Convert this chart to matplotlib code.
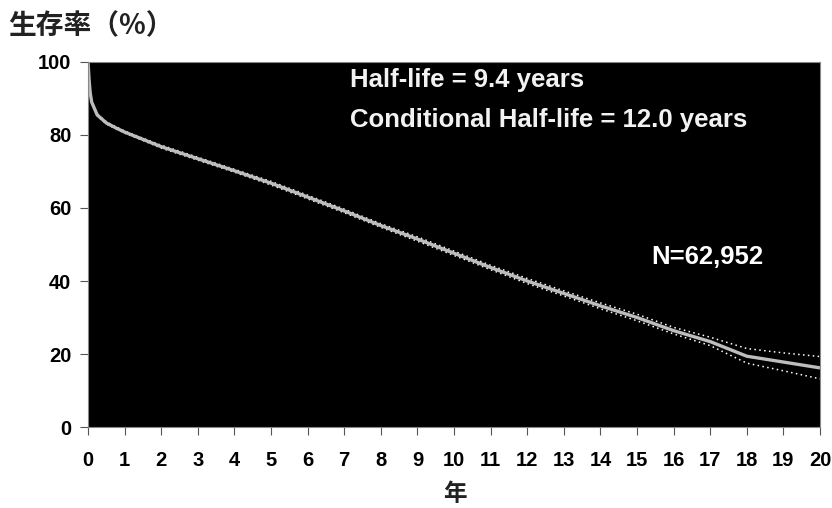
import matplotlib
matplotlib.use("Agg")
import matplotlib.pyplot as plt

# survival curve (years, percent surviving) with confidence bounds
years = [0, 0.03, 0.06, 0.1, 0.25, 0.5, 0.75, 1, 1.5, 2, 3, 4, 5, 6, 7, 8, 9, 10,
         11, 12, 13, 14, 15, 16, 17, 18, 19, 20]
survival = [100, 95, 91.5, 89, 85.5, 83.3, 82, 80.8, 78.8, 76.8, 73.5, 70.2, 66.8,
            63, 59.2, 55.2, 51.5, 47.6, 43.7, 40, 36.6, 33.2, 30, 26.4, 23.4, 19.4,
            17.8, 16.2]
upper = [100, 95.3, 91.8, 89.3, 85.8, 83.6, 82.3, 81.1, 79.1, 77.2, 73.9, 70.6, 67.3,
         63.5, 59.7, 55.7, 52.1, 48.2, 44.3, 40.7, 37.3, 34.0, 30.9, 27.3, 24.6, 21.5,
         20.3, 19.3]
lower = [100, 94.7, 91.2, 88.7, 85.2, 83.0, 81.7, 80.5, 78.5, 76.4, 73.1, 69.8, 66.3,
         62.5, 58.7, 54.7, 50.9, 47.0, 43.1, 39.3, 35.9, 32.4, 29.1, 25.5, 22.3, 17.5,
         15.4, 13.2]

xticks = list(range(0, 21))
yticks = [0, 20, 40, 60, 80, 100]

latin = ["Liberation Sans", "DejaVu Sans"]
cjk = ["Noto Sans CJK JP", "DejaVu Sans"]

fig = plt.figure(figsize=(8.32, 5.08), dpi=100)
ax = fig.add_axes([0.1058, 0.1594, 0.8798, 0.7186])
ax.set_facecolor("black")

ax.plot(years, upper, color="white", linestyle=(0, (1, 2.2)), linewidth=1.1)
ax.plot(years, lower, color="white", linestyle=(0, (1, 2.2)), linewidth=1.1)
ax.plot(years, survival, color="#bdbdbd", linewidth=2.4, solid_capstyle="butt")

ax.set_xlim(0, 20)
ax.set_ylim(0, 100)
ax.set_xticks(xticks)
ax.set_yticks(yticks)
ax.set_xticklabels([str(t) for t in xticks], family=latin, fontweight="bold", fontsize=14.5)
ax.set_yticklabels([str(t) for t in yticks], family=latin, fontweight="bold", fontsize=14.5)
ax.tick_params(axis="both", direction="out", length=6, width=0.8, color="#555555")
ax.tick_params(axis="x", pad=11)
ax.tick_params(axis="y", pad=6)
for s in ax.spines.values():
    s.set_color("#888888")
    s.set_linewidth(0.8)

ax.text(7.16, 95.1, "Half-life = 9.4 years", color="#f2f2f2", family=latin,
        fontweight="bold", fontsize=18.5, va="center", ha="left")
ax.text(7.16, 84.1, "Conditional Half-life = 12.0 years", color="#f2f2f2", family=latin,
        fontweight="bold", fontsize=18.5, va="center", ha="left")
ax.text(15.38, 46.6, "N=62,952", color="white", family=latin,
        fontweight="bold", fontsize=18.5, va="center", ha="left")

fig.text(0.01, 0.949, "生存率（%）", family=cjk, fontweight="bold", fontsize=20,
         color="#222222", va="center", ha="left")
fig.text(0.547, 0.028, "年", family=cjk, fontweight="bold", fontsize=17,
         color="#222222", va="center", ha="center")

fig.savefig("out.png", dpi=100)
